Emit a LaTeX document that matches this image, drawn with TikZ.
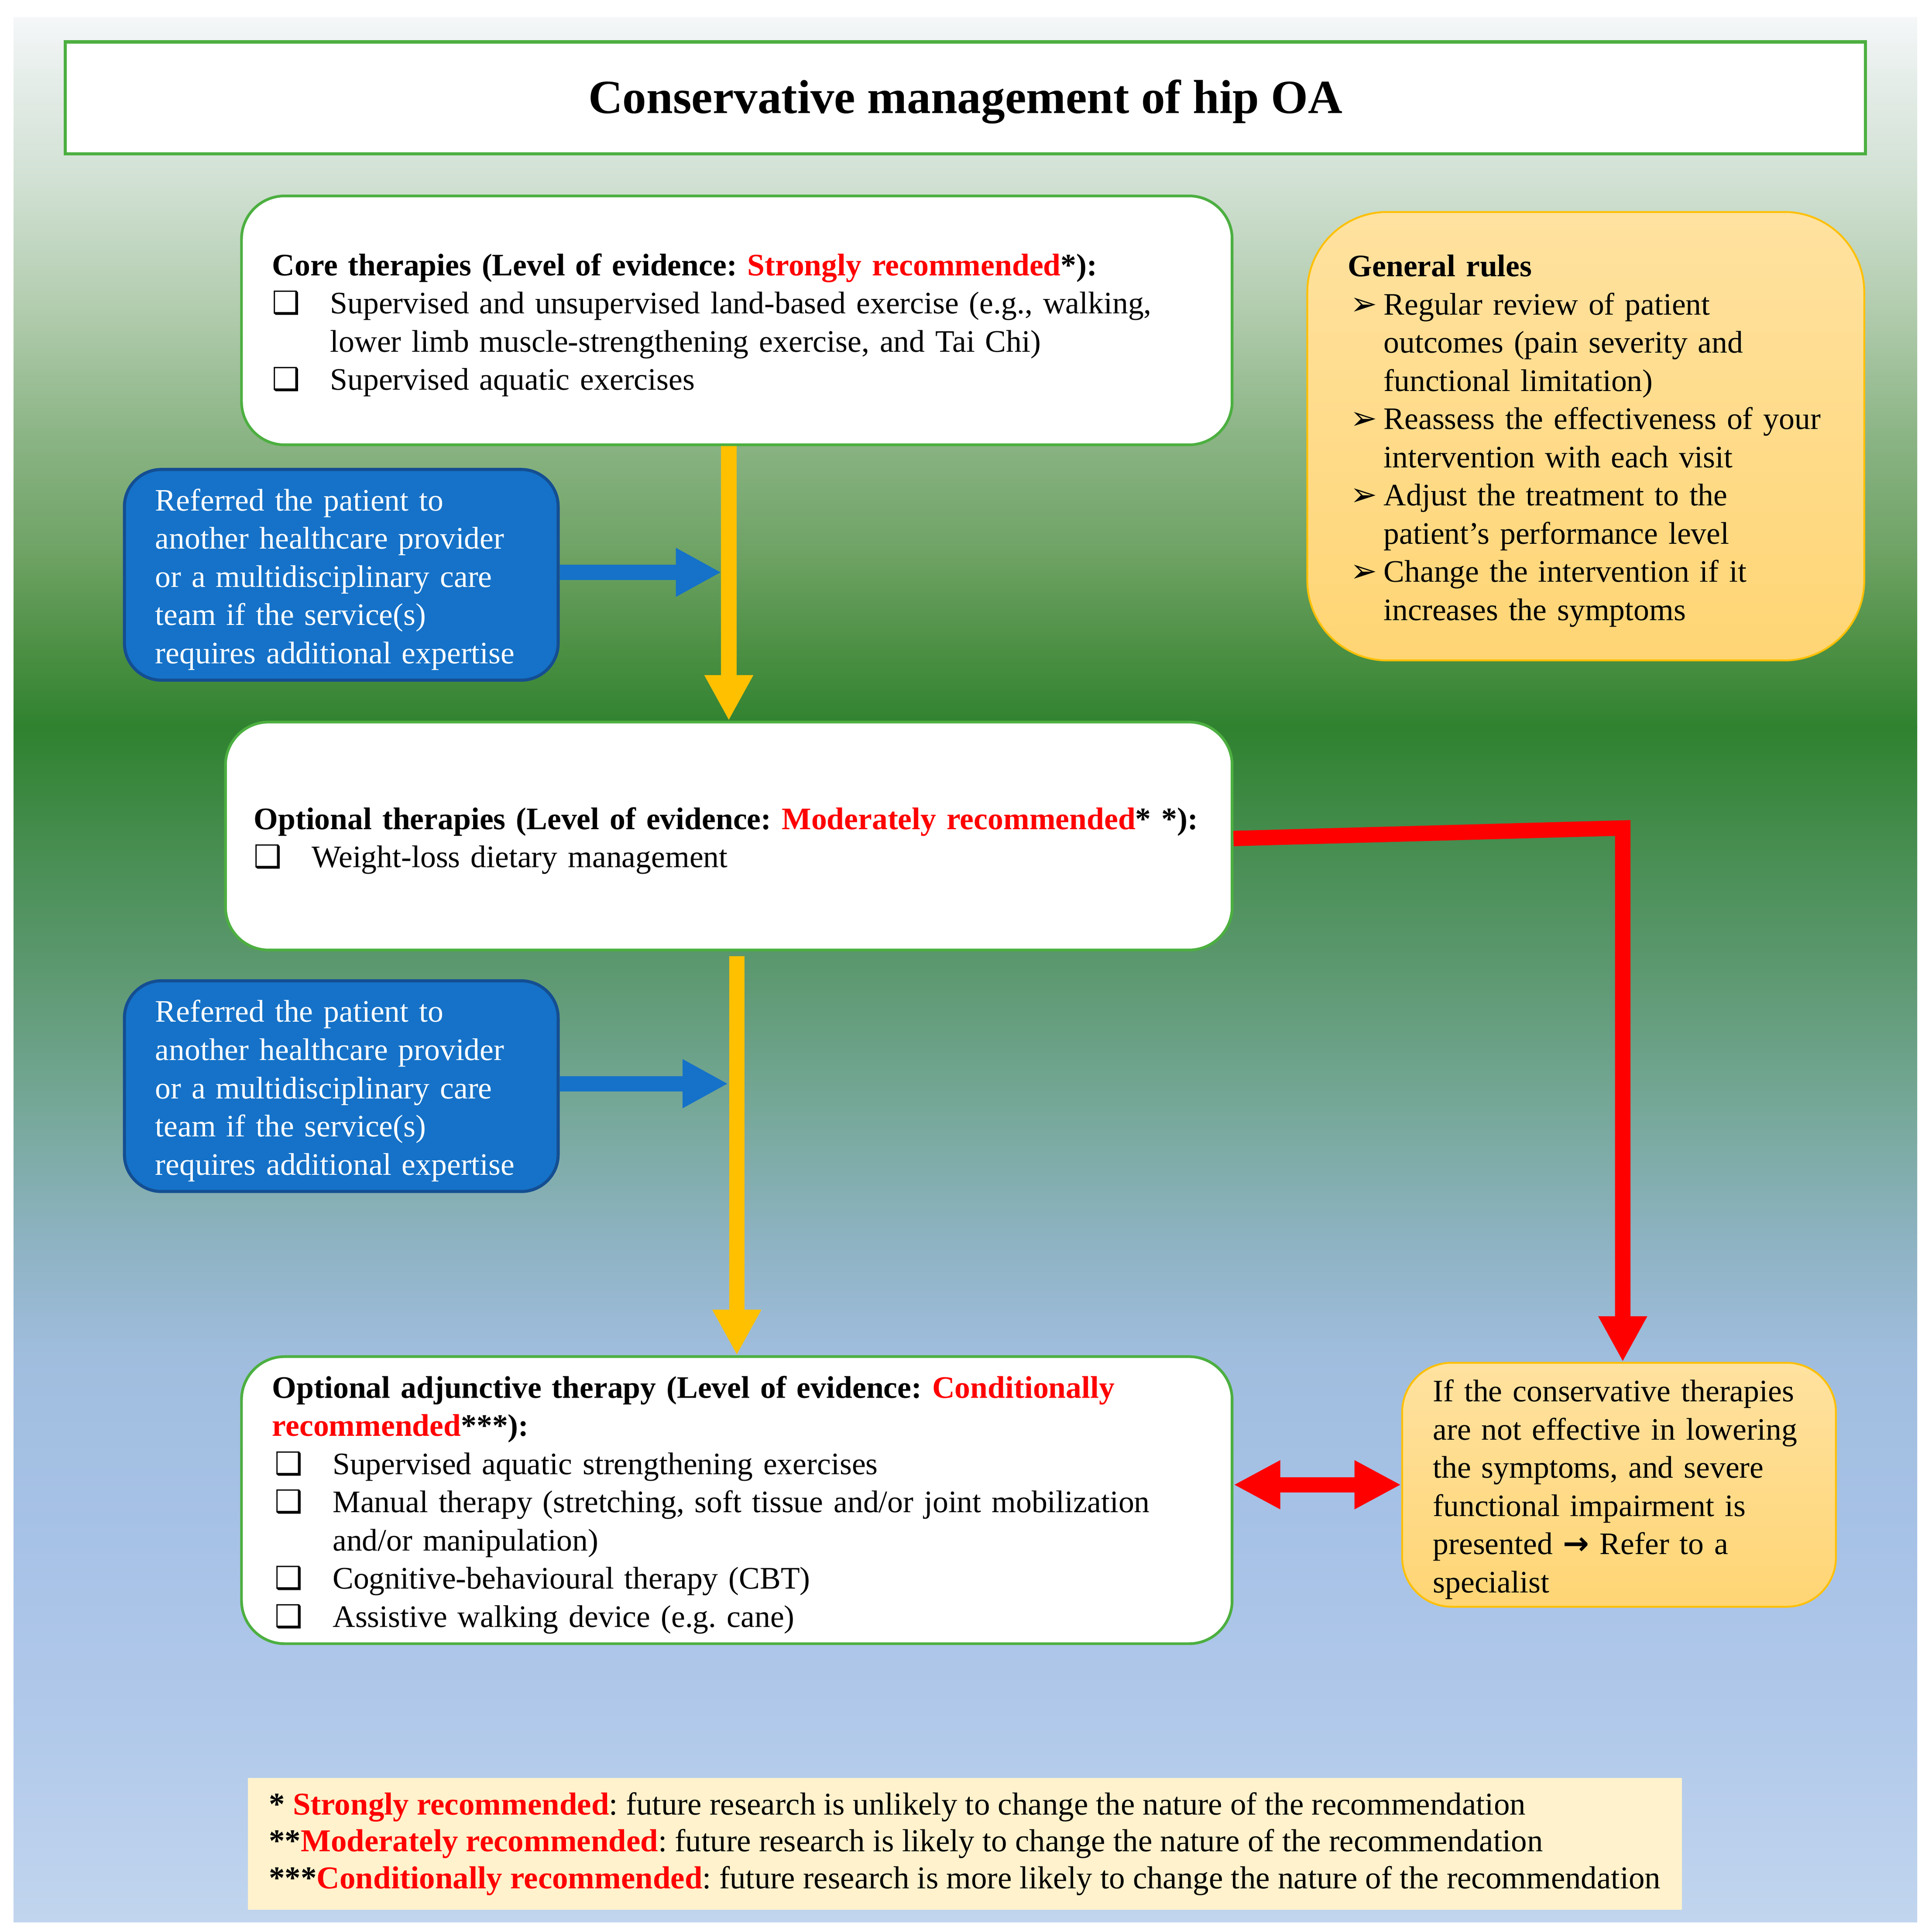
\documentclass[tikz,border=0pt]{standalone}
\usepackage{fontspec}
\setmainfont{Liberation Serif}
\newfontfamily\dejavu{DejaVu Sans}
\usepackage{tikz}
\usetikzlibrary{arrows.meta}
\usetikzlibrary{calc}
\frenchspacing

\definecolor{boxgreen}{RGB}{76,175,64}
\definecolor{refblue}{RGB}{21,114,200}
\definecolor{refedge}{RGB}{20,78,146}
\definecolor{amber}{RGB}{255,192,0}
\definecolor{notetop}{RGB}{255,226,160}
\definecolor{notebot}{RGB}{255,213,116}
\definecolor{keyfill}{RGB}{255,242,204}
\definecolor{alertred}{RGB}{255,0,0}
% background stops, top to bottom
\definecolor{bg0}{HTML}{F5F7F9}
\definecolor{bg1}{HTML}{E6EEEA}
\definecolor{bg2}{HTML}{D0E0D2}
\definecolor{bg3}{HTML}{B2CCAE}
\definecolor{bg4}{HTML}{8CB586}
\definecolor{bg5}{HTML}{6EA264}
\definecolor{bg6}{HTML}{4F9146}
\definecolor{bg7}{HTML}{2F822F}
\definecolor{bg8}{HTML}{4A8F55}
\definecolor{bg9}{HTML}{5F9A74}
\definecolor{bga}{HTML}{76A899}
\definecolor{bgb}{HTML}{8CB2C0}
\definecolor{bgc}{HTML}{A0BDDE}
\definecolor{bgd}{HTML}{A7C2E7}
\definecolor{bge}{HTML}{B1C9EA}
\definecolor{bgf}{HTML}{C1D5EE}

\newcommand{\cbx}{\makebox[4.7mm][l]{\dejavu\bfseries ❑}}
\newcommand{\bul}{\makebox[2.9mm][l]{\hspace{0.2mm}\dejavu\bfseries\fontsize{7.4}{8.82}\selectfont ➢}}

\begin{document}
\begin{tikzpicture}[x=0.1mm, y=-0.1mm,
    every node/.append style={font=\fontsize{7.22}{8.82}\selectfont},
    heading/.style={draw=boxgreen, line width=0.25mm, fill=white, minimum width=146.1mm, minimum height=9.1mm, inner sep=0pt, font=\fontsize{11}{13}\selectfont\bfseries},
    therapy/.style={draw=boxgreen, line width=0.22mm, fill=white, rounded corners=3.5mm, align=left, inner xsep=2.5mm, inner ysep=0pt, execute at begin node=\rule{0pt}{1em}},
    referral/.style={draw=refedge, line width=0.25mm, fill=refblue, text=white, rounded corners=3mm, align=left, inner xsep=2.5mm, inner ysep=0pt, text width=30.2mm, minimum height=17.1mm, execute at begin node=\rule{0pt}{1em}},
    advice/.style={draw=amber, line width=0.15mm, top color=notetop, bottom color=notebot, align=left, inner ysep=0pt, execute at begin node=\rule{0pt}{1em}},
    fatline/.style={line width=1.25mm, line join=miter},
    fattip/.style={-{Triangle[length=3.7mm, width=3.7mm]}},
    fatboth/.style={{Triangle[length=3.8mm, width=3.7mm]}-{Triangle[length=3.8mm, width=3.7mm]}}]

    \useasboundingbox (0,0) rectangle (1568,1568);
    \fill[white] (0,0) rectangle (1568,1568);
    \foreach \ya/\ca/\yb/\cb in {14/bg0/60/bg1, 60/bg1/150/bg2, 150/bg2/250/bg3, 250/bg3/350/bg4, 350/bg4/450/bg5, 450/bg5/520/bg6, 520/bg6/590/bg7, 590/bg7/700/bg8, 700/bg8/800/bg9, 800/bg9/900/bga, 900/bga/1000/bgb, 1000/bgb/1100/bgc, 1100/bgc/1250/bgd, 1250/bgd/1400/bge, 1400/bge/1559/bgf}
        \fill[top color=\ca, bottom color=\cb] (11,\ya) rectangle (1556,\yb+1);

    \node[heading] (title) at (783.5,79.5) {\raisebox{-0.3mm}[\height][\depth]{Conservative management of hip OA}};

    \node[therapy, text width=75.4mm, minimum height=20.2mm] (core) at (598,260) {\textbf{Core therapies (Level of evidence: \textcolor{alertred}{Strongly recommended}*):}\\
        \cbx Supervised and unsupervised land-based exercise (e.g., walking,\\
        \hspace*{4.7mm}lower limb muscle-strengthening exercise, and Tai Chi)\\
        \cbx Supervised aquatic exercises};

    \node[therapy, inner xsep=2.3mm, text width=77.1mm, minimum height=18.5mm] (opt) at (591.5,678.5) {\textbf{Optional therapies (Level of evidence: \textcolor{alertred}{Moderately recommended}* *):}\\
        \cbx Weight-loss dietary management};

    \node[therapy, text width=75.4mm, minimum height=23.3mm] (adj) at (598,1217.5) {\textbf{Optional adjunctive therapy (Level of evidence: \textcolor{alertred}{Conditionally}}\\
        \textbf{\textcolor{alertred}{recommended}***):}\\
        \hspace*{0.2mm}\cbx Supervised aquatic strengthening exercises\\
        \hspace*{0.2mm}\cbx Manual therapy (stretching, soft tissue and/or joint mobilization\\
        \hspace*{4.9mm}and/or manipulation)\\
        \hspace*{0.2mm}\cbx Cognitive-behavioural therapy (CBT)\\
        \hspace*{0.2mm}\cbx Assistive walking device (e.g. cane)};

    \node[referral] (ref1) at (277,466.5) {Referred the patient to\\ another healthcare provider\\ or a multidisciplinary care\\ team if the service(s)\\ requires additional expertise};
    \node[referral] (ref2) at (277,881.5) {Referred the patient to\\ another healthcare provider\\ or a multidisciplinary care\\ team if the service(s)\\ requires additional expertise};

    \node[advice, rounded corners=6.5mm, inner xsep=3.3mm, text width=38.6mm, minimum height=36.4mm] (rules) at (1287,354) {\textbf{General rules}\\
        \bul Regular review of patient\\
        \hspace*{2.9mm}outcomes (pain severity and\\
        \hspace*{2.9mm}functional limitation)\\
        \bul Reassess the effectiveness of your\\
        \hspace*{2.9mm}intervention with each visit\\
        \bul Adjust the treatment to the\\
        \hspace*{2.9mm}patient’s performance level\\
        \bul Change the intervention if it\\
        \hspace*{2.9mm}increases the symptoms};

    \node[advice, rounded corners=4mm, inner xsep=2.5mm, text width=30.2mm, minimum height=19.8mm] (spec) at (1314,1205) {If the conservative therapies\\ are not effective in lowering\\ the symptoms, and severe\\ functional impairment is\\ presented {\dejavu\bfseries →} Refer to a\\ specialist};

    \node[fill=keyfill, minimum width=116.4mm, minimum height=10.7mm, inner sep=0pt, align=left, font=\fontsize{7.35}{8.54}\selectfont] (key) at (783,1496.5) {\textbf{* \textcolor{alertred}{Strongly recommended}}: future research is unlikely to change the nature of the recommendation\\
        \textbf{**\textcolor{alertred}{Moderately recommended}}: future research is likely to change the nature of the recommendation\\
        \textbf{***\textcolor{alertred}{Conditionally recommended}}: future research is more likely to change the nature of the recommendation};

    % connectors
    \coordinate (hit1) at ($(ref1.east -| opt.north)+(-6,-2)$);
    \coordinate (hit2) at ($(ref2.east -| adj.north)+(-7,-2)$);
    \coordinate (bend) at (1317,672);
    \draw[fatline, fattip, refblue] (ref1.east |- hit1) -- (hit1);
    \draw[fatline, fattip, refblue] (ref2.east |- hit2) -- (hit2);
    \draw[fatline, fattip, amber] (core.south -| opt.north) -- (opt.north);
    \draw[fatline, fattip, amber] ($(opt.south -| adj.north)+(0,4)$) -- (adj.north);
    \draw[fatline, fattip, alertred] ($(opt.east)+(0,2)$) -- (bend) -- (bend |- spec.north);
    \draw[fatline, fatboth, alertred] (adj.east |- spec.west) -- (spec.west);
\end{tikzpicture}
\end{document}
